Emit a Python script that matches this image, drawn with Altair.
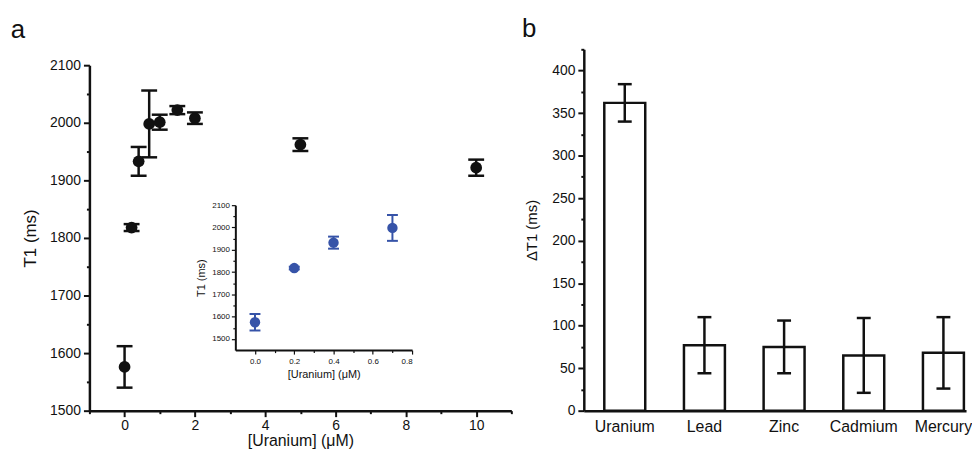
import altair as alt
import pandas as pd

FONT = "Liberation Sans"
INK = "#111111"
BLUE = "#3653a8"

# Panel a: T1 vs uranium concentration
conc = [0.0, 0.2, 0.4, 0.7, 1.0, 1.5, 2.0, 5.0, 10.0]
t1 = [1576, 1818, 1933, 1998, 2001, 2022, 2008, 1962, 1922]
t1_err = [36, 6, 25, 58, 13, 7, 10, 11, 14]

# Inset: low concentration range
ins_conc = [0.0, 0.2, 0.4, 0.7]
ins_t1 = [1575, 1818, 1932, 1998]
ins_err = [37, 6, 27, 58]

# Panel b: delta T1 per metal
metals = ["Uranium", "Lead", "Zinc", "Cadmium", "Mercury"]
dt1 = [362, 77, 75, 65, 68]
dt1_err = [22, 33, 31, 44, 42]

df_a = pd.DataFrame({"conc": conc, "t1": t1,
                     "lo": [v - e for v, e in zip(t1, t1_err)],
                     "hi": [v + e for v, e in zip(t1, t1_err)]})
df_i = pd.DataFrame({"conc": ins_conc, "t1": ins_t1,
                     "lo": [v - e for v, e in zip(ins_t1, ins_err)],
                     "hi": [v + e for v, e in zip(ins_t1, ins_err)]})
df_b = pd.DataFrame({"metal": metals, "dt1": dt1,
                     "lo": [v - e for v, e in zip(dt1, dt1_err)],
                     "hi": [v + e for v, e in zip(dt1, dt1_err)]})

AX = dict(grid=False, domainColor=INK, domainWidth=2.5, tickColor=INK, tickWidth=2,
          labelFont=FONT, labelColor=INK, titleFont=FONT, titleColor=INK,
          titleFontWeight="normal")

# ---------- panel a main ----------
ax_x = alt.Axis(values=list(range(-1, 12)), format="d",
                labelExpr="datum.value % 2 === 0 ? datum.label : ''",
                tickSize={"condition": {"test": "datum.value % 2 === 0", "value": 6}, "value": 3},
                labelFontSize=14, labelPadding=2, title="[Uranium] (μM)", titleFontSize=16,
                titlePadding=0, orient="bottom", **AX)
ax_y = alt.Axis(values=list(range(1500, 2101, 50)), format="d",
                labelExpr="datum.value % 100 === 0 ? datum.label : ''",
                tickSize={"condition": {"test": "datum.value % 100 === 0", "value": 6}, "value": 3},
                labelFontSize=14, labelPadding=3, title="T1 (ms)", titleFontSize=17,
                titlePadding=10, orient="left", **AX)
sx = alt.Scale(domain=[-1, 11], nice=False, zero=False)
sy = alt.Scale(domain=[1500, 2100], range=[364, 16], nice=False, zero=False)


def X(f):
    return alt.X(f, type="quantitative", scale=sx, axis=ax_x)


def Y(f):
    return alt.Y(f, type="quantitative", scale=sy, axis=ax_y)


a_rule = alt.Chart().mark_rule(color=INK, strokeWidth=2.5).encode(x=X("conc"), y=Y("lo"), y2="hi")
a_lo = alt.Chart().mark_tick(color=INK, opacity=1, orient="horizontal", size=16, thickness=2.5).encode(x=X("conc"), y=Y("lo"))
a_hi = alt.Chart().mark_tick(color=INK, opacity=1, orient="horizontal", size=16, thickness=2.5).encode(x=X("conc"), y=Y("hi"))
a_pt = alt.Chart().mark_circle(color=INK, size=140, opacity=1).encode(x=X("conc"), y=Y("t1"))
main_a = alt.layer(a_rule, a_lo, a_hi, a_pt, data=df_a)

# ---------- inset ----------
IAX = dict(AX)
IAX.update(domainWidth=2, tickWidth=1.2)
iax_x = alt.Axis(values=[round(0.1 * i, 1) for i in range(0, 9)], format=".1f",
                 labelExpr="round(datum.value * 10) % 2 === 0 ? datum.label : ''",
                 tickSize={"condition": {"test": "round(datum.value * 10) % 2 === 0", "value": 4}, "value": 2.5},
                 labelFontSize=8, labelPadding=3, title="[Uranium] (μM)", titleFontSize=11,
                 titlePadding=4, orient="bottom", offset=-61, **IAX)
iax_y = alt.Axis(values=list(range(1500, 2101, 50)), format="d",
                 labelExpr="datum.value % 100 === 0 ? datum.label : ''",
                 tickSize={"condition": {"test": "datum.value % 100 === 0", "value": 4}, "value": 2.5},
                 labelFontSize=8, labelPadding=2, title="T1 (ms)", titleFontSize=11,
                 titlePadding=5, orient="left", offset=-147, **IAX)
isx = alt.Scale(domain=[-0.1, 0.8], range=[147, 325], nice=False, zero=False)
isy = alt.Scale(domain=[1450, 2100], range=[303, 157], nice=False, zero=False)


def IX(f):
    return alt.X(f, type="quantitative", scale=isx, axis=iax_x)


def IY(f):
    return alt.Y(f, type="quantitative", scale=isy, axis=iax_y)


i_rule = alt.Chart().mark_rule(color=BLUE, strokeWidth=2).encode(x=IX("conc"), y=IY("lo"), y2="hi")
i_lo = alt.Chart().mark_tick(color=BLUE, opacity=1, orient="horizontal", size=11, thickness=2).encode(x=IX("conc"), y=IY("lo"))
i_hi = alt.Chart().mark_tick(color=BLUE, opacity=1, orient="horizontal", size=11, thickness=2).encode(x=IX("conc"), y=IY("hi"))
i_pt = alt.Chart().mark_circle(color=BLUE, size=110, opacity=1).encode(x=IX("conc"), y=IY("t1"))
inset = alt.layer(i_rule, i_lo, i_hi, i_pt, data=df_i)

panel_a = alt.layer(main_a, inset).resolve_scale(x="independent", y="independent").resolve_axis(
    x="independent", y="independent").properties(
    width=425, height=364,
    title=alt.TitleParams("a", anchor="start", fontSize=26, fontWeight="normal", font=FONT,
                          color=INK, dx=-11, offset=6))

# ---------- panel b ----------
bx = alt.X("metal:N", sort=metals,
           scale=alt.Scale(paddingInner=0.486, paddingOuter=0.142, align=0.905),
           axis=alt.Axis(title=None, labelAngle=0, ticks=False, labelFontSize=16, labelPadding=8, **AX))
by_axis = alt.Axis(values=list(range(0, 426, 25)), format="d",
                   labelExpr="datum.value % 50 === 0 ? datum.label : ''",
                   tickSize={"condition": {"test": "datum.value % 50 === 0", "value": 6}, "value": 3},
                   labelFontSize=14, labelPadding=3, title="ΔT1 (ms)", titleFontSize=15,
                   titlePadding=12, **AX)
bsy = alt.Scale(domain=[0, 425], nice=False, zero=True)


def BY(f):
    return alt.Y(f, type="quantitative", scale=bsy, axis=by_axis)


b_bar = alt.Chart().mark_bar(fill="white", stroke=INK, strokeWidth=2.5).encode(x=bx, y=BY("dt1"))
b_rule = alt.Chart().mark_rule(color=INK, strokeWidth=2.5).encode(x=bx, y=BY("lo"), y2="hi")
b_lo = alt.Chart().mark_tick(color=INK, opacity=1, orient="horizontal", size=14, thickness=2.5).encode(x=bx, y=BY("lo"))
b_hi = alt.Chart().mark_tick(color=INK, opacity=1, orient="horizontal", size=14, thickness=2.5).encode(x=bx, y=BY("hi"))
panel_b = alt.layer(b_bar, b_rule, b_lo, b_hi, data=df_b).properties(
    width=385, height=364,
    title=alt.TitleParams("b", anchor="start", fontSize=26, fontWeight="normal", font=FONT,
                          color=INK, dx=-3, offset=6))

chart = alt.hconcat(panel_a, panel_b, spacing=9).properties(
    padding={"left": 2, "top": 7, "right": 0, "bottom": 0}, background="white"
).configure_view(stroke=None)

chart.save("out.html", embed_options={"renderer": "svg", "actions": False})
